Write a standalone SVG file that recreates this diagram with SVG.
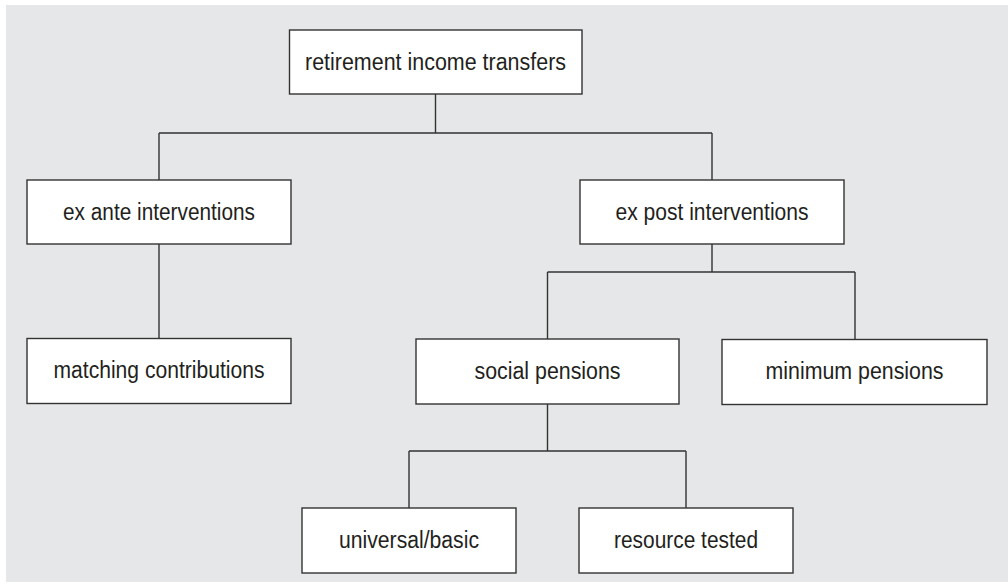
<svg xmlns="http://www.w3.org/2000/svg" width="1008" height="588" viewBox="0 0 1008 588">
<style>
.box{fill:#ffffff;stroke:#333333;stroke-width:1.4}
.lbl{font-family:"Liberation Sans",Arial,sans-serif;font-size:23px;fill:#231f20;text-anchor:middle}
.con{fill:none;stroke:#333333;stroke-width:1.4}
</style>
<rect x="6" y="5" width="1002" height="577" fill="#e6e7e8"/>
<g id="connectors">
<path class="con" d="M435.5 94V133M159 133H712M159 133V180M712 133V180"/>
<path class="con" d="M159 244V338"/>
<path class="con" d="M712 244V272M547.5 272H855M547.5 272V339M855 272V339"/>
<path class="con" d="M547.5 404V451M409 451H686M409 451V508M686 451V508"/>
</g>
<g id="n-retirement"><rect class="box" x="289.5" y="30" width="292.5" height="64"/><text class="lbl" x="435.5" y="69.5" textLength="261" lengthAdjust="spacingAndGlyphs">retirement income transfers</text></g>
<g id="n-exante"><rect class="box" x="27" y="180" width="264" height="64"/><text class="lbl" x="159" y="219.5" textLength="192" lengthAdjust="spacingAndGlyphs">ex ante interventions</text></g>
<g id="n-expost"><rect class="box" x="580" y="180" width="264" height="64"/><text class="lbl" x="712" y="219.5" textLength="193" lengthAdjust="spacingAndGlyphs">ex post interventions</text></g>
<g id="n-matching"><rect class="box" x="27" y="338.5" width="264" height="65"/><text class="lbl" x="159" y="378" textLength="211" lengthAdjust="spacingAndGlyphs">matching contributions</text></g>
<g id="n-social"><rect class="box" x="416" y="339" width="263" height="65"/><text class="lbl" x="547.5" y="379" textLength="146" lengthAdjust="spacingAndGlyphs">social pensions</text></g>
<g id="n-minimum"><rect class="box" x="722" y="339.5" width="265" height="65"/><text class="lbl" x="854.5" y="379" textLength="178" lengthAdjust="spacingAndGlyphs">minimum pensions</text></g>
<g id="n-universal"><rect class="box" x="302" y="508" width="214" height="65"/><text class="lbl" x="409" y="548" textLength="140" lengthAdjust="spacingAndGlyphs">universal/basic</text></g>
<g id="n-resource"><rect class="box" x="579" y="508" width="214" height="65"/><text class="lbl" x="686" y="548" textLength="144" lengthAdjust="spacingAndGlyphs">resource tested</text></g>
</svg>
